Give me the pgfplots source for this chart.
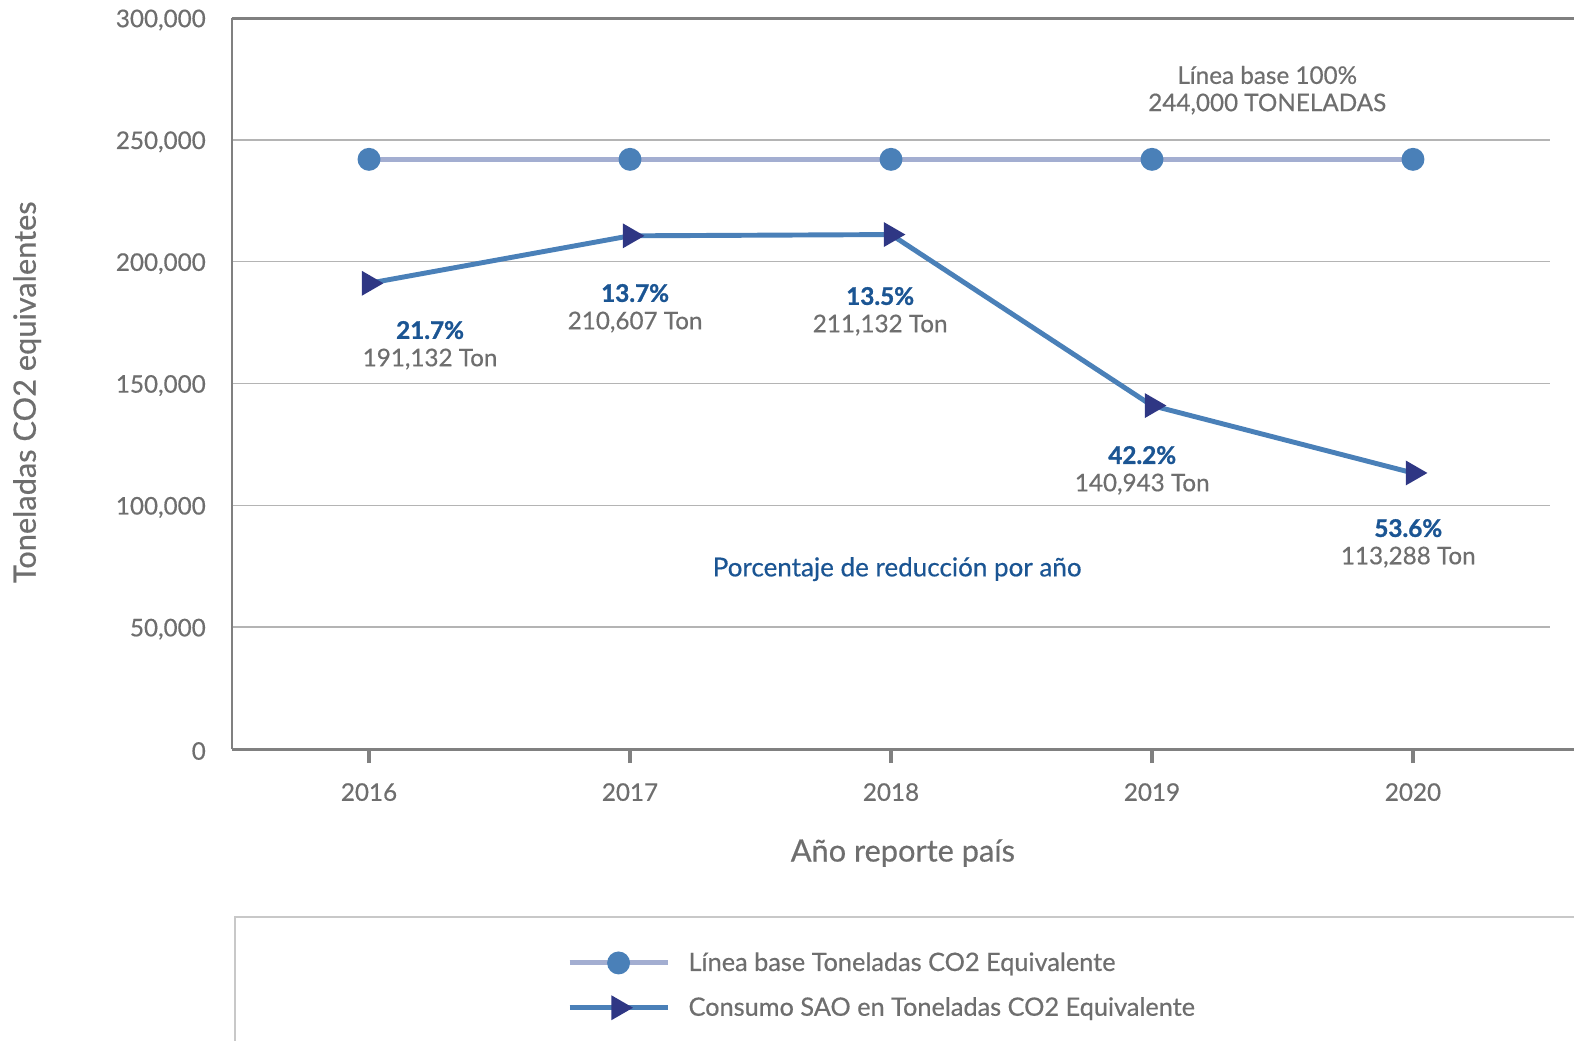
\documentclass[border=0pt]{standalone}
\usepackage{fontspec}
\setmainfont{Lato}[UprightFeatures={FakeBold=0.5}, BoldFeatures={FakeBold=1.2}]
\usepackage{pgfplots}
\usepackage{pgfplotstable}
\pgfplotsset{compat=1.18}

\definecolor{txtgray}{HTML}{6E6E6E}
\definecolor{axgray}{HTML}{808080}
\definecolor{gridgray}{HTML}{B4B4B4}
\definecolor{lblblue}{HTML}{1B5593}
\definecolor{linebase}{HTML}{A3AED1}
\definecolor{steel}{HTML}{4A80B8}
\definecolor{navy}{HTML}{2F3784}
\definecolor{boxgray}{HTML}{C8C8C8}

% valores en toneladas CO2 equivalentes
\pgfplotstableread{
year base consumo
2016 242000 191132
2017 242000 210607
2018 242000 211132
2019 242000 140943
2020 242000 113288
}\datatable

\newcommand\midfont{\fontsize{13.8}{16}\selectfont}
\newcommand\lgdfont{\fontsize{14.4}{17}\selectfont}
\newcommand\bigfont{\fontsize{17.5}{21}\selectfont}

\begin{document}
\begin{tikzpicture}
\begin{axis}[
  at={(4.64cm,-14.98cm)}, anchor=south west,
  scale only axis, width=26.36cm, height=14.62cm,
  xmin=2015.475, xmax=2020.525,
  ymin=0, ymax=300000,
  xtick={2016,2017,2018,2019,2020},
  ytick={0,50000,100000,150000,200000,250000,300000},
  axis x line*=box, axis y line*=left,
  axis line style={-, axgray, line width=1.7pt},
  ymajorgrids, grid style={gridgray, line width=0.8pt},
  xtick pos=lower, xtick align=outside,
  x tick style={axgray, line width=2.3pt},
  major tick length=0.28cm,
  y tick style={draw=none},
  tick label style={font=\midfont, txtgray},
  /pgf/number format/assume math mode=true,
  scaled y ticks=false,
  y tick label style={/pgf/number format/fixed, /pgf/number format/1000 sep={,}, xshift=-0.4cm, yshift=-0.04cm},
  x tick label style={/pgf/number format/1000 sep=, yshift=-0.28cm},
  xlabel={Año reporte país},
  ylabel={Toneladas CO2 equivalentes},
  every axis x label/.style={at={(axis description cs:0.509,-0.1423)}, anchor=center, font=\bigfont, text=txtgray},
  every axis y label/.style={at={(axis description cs:-0.1555,0.488)}, anchor=center, rotate=90, font=\bigfont, text=txtgray},
  legend style={at={(0.25,-0.268)}, anchor=north west, draw=none, fill=none,
    font=\lgdfont, text=txtgray, row sep=0.33cm,
    /tikz/every even column/.append style={column sep=0.2cm}},
  legend cell align=left,
  legend image code/.code={
    \draw[mark repeat=2,mark phase=2,#1] plot coordinates {(0cm,0cm) (0.98cm,0cm) (1.96cm,0cm)};
  },
  clip=false,
]
\addplot[linebase, line width=2.8pt, mark=*, mark size=5.1pt,
  mark options={fill=steel, draw=steel}] table[x=year, y=base] {\datatable};
\addlegendentry{\hspace{0.3cm}Línea base Toneladas CO2 Equivalente}
\addplot[steel, line width=2.8pt, mark=triangle*, mark size=5.4pt,
  mark options={fill=navy, draw=navy, rotate=-90}] table[x=year, y=consumo] {\datatable};
\addlegendentry{\hspace{0.3cm}Consumo SAO en Toneladas CO2 Equivalente}
\end{axis}

\begin{scope}[x=0.02cm, y=-0.02cm,
  pct/.style={font=\midfont\bfseries, text=lblblue},
  val/.style={font=\midfont, text=txtgray}]
  \draw[axgray, line width=1.7pt] (1549,18) -- (1620,18);
  \draw[axgray, line width=1.7pt] (1549,749) -- (1620,749);
  \draw[boxgray, line width=0.8pt] (235,917) rectangle (1620,1080);
  \node[val] at (1267,75) {Línea base 100\%};
  \node[val] at (1267,104) {244,000 TONELADAS};
  \node[pct] at (430,330) {21.7\%};
  \node[val] at (430,359) {191,132 Ton};
  \node[pct] at (635,293) {13.7\%};
  \node[val] at (635,322) {210,607 Ton};
  \node[pct] at (880,296) {13.5\%};
  \node[val] at (880,325) {211,132 Ton};
  \node[pct] at (1142,455) {42.2\%};
  \node[val] at (1142,484) {140,943 Ton};
  \node[pct] at (1408,528) {53.6\%};
  \node[val] at (1408,557) {113,288 Ton};
  \node[font=\fontsize{14.8}{17}\selectfont, text=lblblue] at (897,569) {Porcentaje de reducción por año};
\end{scope}
\pgfresetboundingbox
\useasboundingbox (0,0) rectangle (31.48cm,-20.8cm);
\end{tikzpicture}
\end{document}
